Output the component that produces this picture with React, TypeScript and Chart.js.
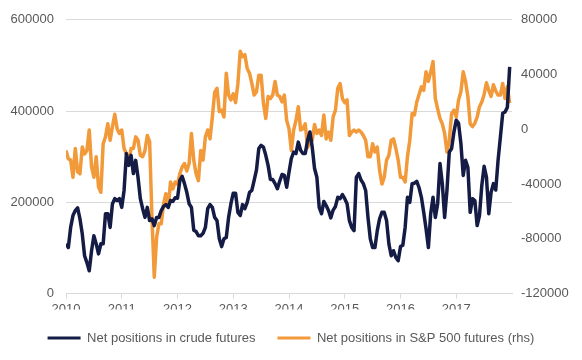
import React, { useEffect, useRef } from 'react';
import { Chart, registerables } from 'chart.js';

Chart.register(...registerables);

// ---- data ----
const yearLabels = ['2010', '2011', '2012', '2013', '2014', '2015', '2016', '2017'];
const startYear = 2010;
const pointsPerYear = 24; // semi-monthly observations

const crudeNetPositions = [
  109000, 101000, 145000, 171000, 182000, 188000, 164000, 131000, 83000, 68000,
  50000, 94000, 127000, 109000, 87000, 109000, 109000, 175000, 175000, 145000,
  197000, 208000, 204000, 208000, 189000, 226000, 307000, 281000, 303000, 263000,
  292000, 255000, 208000, 186000, 167000, 189000, 160000, 164000, 149000, 167000,
  167000, 182000, 191000, 195000, 189000, 204000, 202000, 210000, 209000, 248000,
  257000, 241000, 222000, 197000, 189000, 139000, 136000, 127000, 127000, 132000,
  145000, 186000, 195000, 189000, 167000, 160000, 120000, 103000, 120000, 123000,
  167000, 197000, 220000, 220000, 178000, 171000, 195000, 186000, 200000, 222000,
  226000, 248000, 271000, 318000, 325000, 321000, 303000, 281000, 250000, 250000,
  241000, 230000, 246000, 261000, 259000, 233000, 266000, 296000, 310000, 307000,
  332000, 314000, 307000, 307000, 336000, 354000, 321000, 274000, 255000, 189000,
  175000, 202000, 193000, 182000, 166000, 183000, 191000, 211000, 208000, 217000,
  208000, 197000, 160000, 145000, 138000, 255000, 263000, 249000, 241000, 226000,
  167000, 120000, 101000, 101000, 138000, 164000, 178000, 178000, 160000, 109000,
  83000, 94000, 79000, 72000, 103000, 106000, 145000, 211000, 200000, 241000,
  242000, 246000, 232000, 211000, 178000, 142000, 101000, 175000, 211000, 167000,
  197000, 285000, 241000, 167000, 226000, 310000, 318000, 354000, 380000, 373000,
  329000, 259000, 292000, 277000, 178000, 208000, 204000, 149000, 171000, 237000,
  279000, 255000, 175000, 222000, 241000, 227000, 292000, 343000, 395000, 398000,
  408000, 497000,
];

const sp500NetPositions = [
  -15500, -21500, -22500, -35000, -14000, -31000, -32500, -13000, -18000, -15500,
  -500, -27500, -35000, -20000, -42000, -46000, -10500, -5500, 4000, -8000,
  2000, 11000, 500, -3000, -500, -14000, -18000, -25000, -14000, -14000,
  -5500, -8000, -19000, -20000, -15500, -4500, -9000, -64000, -108000, -79000,
  -69000, -69000, -54500, -47000, -57000, -38500, -43500, -38500, -40000, -32500,
  -27500, -25000, -30500, -25000, -3000, -22500, -32500, -37500, -15500, -22500,
  -5500, -500, -7000, 9000, 27000, 30000, 13000, 14000, 9000, 41000,
  25000, 21500, 26000, 19500, 33500, 57000, 53000, 54500, 44500, 41000,
  33500, 25000, 27500, 39500, 39500, 19000, 8000, 24000, 22500, 25000,
  35000, 25000, 24000, 20000, 25000, 6500, 500, -15500, -500, 6500,
  16500, -500, 500, 4000, -13500, -8500, -8000, 3500, -3000, -500,
  -4500, 10500, -7000, -2000, -8000, 9000, 14000, 30000, 33500, 22500,
  19500, 21500, -4500, -2000, -500, -2000, -500, -2000, -4500, -8000,
  -20000, -20000, -10500, -16500, -13000, -30000, -40000, -35000, -22500, -19000,
  -8000, -7000, -14000, -22500, -35000, -35000, -38500, -20000, -8000, 11500,
  10500, 20000, 25500, 31000, 28500, 42000, 35000, 42000, 49500, 22500,
  15000, 8000, 4000, -3000, -16500, -8000, 11500, 14000, 9000, 21500,
  27500, 42000, 35000, 24000, 4000, 2000, 4500, 9000, 16500, 20000,
  25500, 34000, 28500, 24000, 32500, 28000, 25000, 25000, 33500, 22500,
  31000, 19000,
];

const seriesNames = ['Net positions in crude futures', 'Net positions in S&P 500 futures (rhs)'];

const NAVY = '#141c45';
const ORANGE = '#f2993a';
const GRID = '#d9d9d9';
const TEXT = '#595959';
const FONT = "'Liberation Sans', Arial, sans-serif";

export default function App() {
  const canvasRef = useRef<HTMLCanvasElement | null>(null);

  useEffect(() => {
    const canvas = canvasRef.current;
    if (!canvas) return;
    const toPoints = (arr: number[]) =>
      arr.map((v, i) => ({ x: startYear + i / pointsPerYear, y: v }));

    const chart = new Chart(canvas, {
      type: 'line',
      data: {
        datasets: [
          {
            label: seriesNames[0],
            data: toPoints(crudeNetPositions),
            borderColor: NAVY,
            backgroundColor: NAVY,
            borderWidth: 3.5,
            pointRadius: 0,
            borderJoinStyle: 'round',
            yAxisID: 'y',
          },
          {
            label: seriesNames[1],
            data: toPoints(sp500NetPositions),
            borderColor: ORANGE,
            backgroundColor: ORANGE,
            borderWidth: 3.5,
            pointRadius: 0,
            borderJoinStyle: 'round',
            yAxisID: 'y2',
          },
        ],
      },
      options: {
        responsive: false,
        animation: false,
        layout: { padding: { top: 19, bottom: 5.4, left: 0, right: 0 } },
        font: { family: FONT, size: 13 },
        plugins: {
          tooltip: { enabled: false },
          legend: {
            position: 'bottom',
            labels: {
              boxWidth: 33,
              boxHeight: 3,
              padding: 22,
              color: TEXT,
              font: { family: FONT, size: 13 },
              generateLabels: (ch: any) =>
                (Chart.defaults.plugins.legend.labels.generateLabels as any)(ch).map((l: any) => ({
                  ...l,
                  lineWidth: 0,
                })),
            },
          },
        },
        scales: {
          x: {
            type: 'linear',
            min: 2010,
            max: 2018,
            afterFit: (s: any) => {
              s.height = 16;
            },
            ticks: {
              stepSize: 1,
              autoSkip: false,
              maxRotation: 0,
              padding: 3,
              color: TEXT,
              font: { family: FONT, size: 13 },
              callback: (v: any) => yearLabels[Math.round(Number(v)) - startYear] ?? '',
            },
            grid: {
              drawOnChartArea: false,
              drawTicks: true,
              tickLength: 5,
              color: (ctx: any) => (ctx.tick && ctx.tick.value >= 2018 ? 'rgba(0,0,0,0)' : GRID),
            },
            border: { color: GRID, width: 1 },
          },
          y: {
            position: 'left',
            min: 0,
            max: 600000,
            afterFit: (s: any) => {
              s.width = 66;
            },
            ticks: {
              stepSize: 200000,
              padding: 12,
              color: TEXT,
              font: { family: FONT, size: 13 },
              callback: (v: any) => String(v),
            },
            grid: { color: GRID, drawTicks: false },
            border: { display: false },
          },
          y2: {
            position: 'right',
            min: -120000,
            max: 80000,
            afterFit: (s: any) => {
              s.width = 70;
            },
            ticks: {
              stepSize: 40000,
              padding: 9,
              color: TEXT,
              font: { family: FONT, size: 13 },
              callback: (v: any) => String(v),
            },
            grid: { drawOnChartArea: false, drawTicks: false },
            border: { display: false },
          },
        },
      } as any,
    });

    return () => chart.destroy();
  }, []);

  return (
    <div style={{ position: 'absolute', left: 0, top: 0, width: 582, height: 360, background: '#fff' }}>
      <canvas ref={canvasRef} width={582} height={360} style={{ display: 'block' }} />
    </div>
  );
}
